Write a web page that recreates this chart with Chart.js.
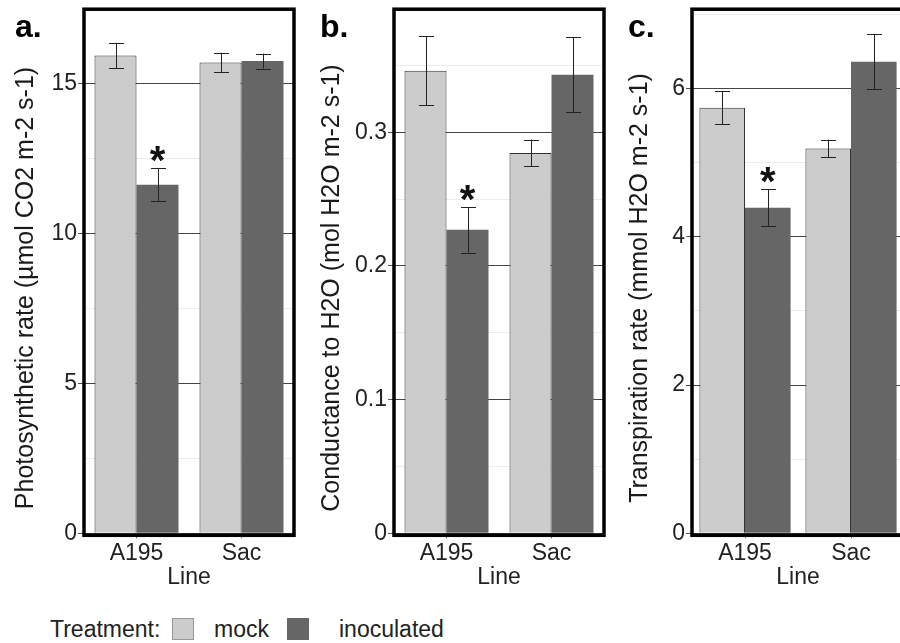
<!DOCTYPE html>
<html>
<head>
<meta charset="utf-8">
<script src="https://cdn.jsdelivr.net/npm/chart.js@4.4.0/dist/chart.umd.min.js"></script>
<style>
  body { margin: 0; background: #fff; }
  #wrap { position: relative; width: 900px; height: 643px; overflow: hidden; font-family: "Liberation Sans", Arial, sans-serif; }
  canvas { position: absolute; top: 0; }
  .leg { position: absolute; top: 618px; font-size: 23px; line-height: 23px; color: #222; white-space: nowrap; }
  .sw { position: absolute; top: 618px; width: 20px; height: 20px; }
</style>
</head>
<body>
<div id="wrap">
  <canvas id="pa" width="300" height="600" style="left:0px"></canvas>
  <canvas id="pb" width="310" height="600" style="left:300px"></canvas>
  <canvas id="pc" width="300" height="600" style="left:610px"></canvas>

  <span class="leg" style="left:50px">Treatment:</span>
  <div class="sw" style="left:172px; background:#cccccc; border:1px solid #999;"></div>
  <span class="leg" style="left:214px">mock</span>
  <div class="sw" style="left:287px; background:#666666; border:1px solid #666;"></div>
  <span class="leg" style="left:339px">inoculated</span>
</div>

<script>
// categories and groups
var lines = ['A195', 'Sac'];
var treatments = ['mock', 'inoculated'];

// a. photosynthetic rate
var photoMock = [15.93, 15.69];
var photoMockErr = [0.42, 0.33];
var photoInoc = [11.62, 15.74];
var photoInocErr = [0.55, 0.25];
var photoTicks = [0, 5, 10, 15];

// b. conductance to H2O
var condMock = [0.346, 0.2845];
var condMockErr = [0.026, 0.010];
var condInoc = [0.227, 0.343];
var condInocErr = [0.017, 0.028];
var condTicks = [0, 0.1, 0.2, 0.3];

// c. transpiration rate
var transMock = [5.74, 5.19];
var transMockErr = [0.22, 0.12];
var transInoc = [4.39, 6.36];
var transInocErr = [0.25, 0.37];
var transTicks = [0, 2, 4, 6];

// significance marks on the inoculated bars
var inocStars = ['*', ''];

Chart.defaults.font.family = '"Liberation Sans", Arial, sans-serif';

function isMajor(v, majors) {
    return majors.some(function (m) { return Math.abs(v - m) < 1e-6; });
}

// error bars, stars, frame, panel letter and y title
var panelDecor = {
    id: 'panelDecor',
    afterDatasetsDraw: function (chart) {
        var ctx = chart.ctx;
        var y = chart.scales.y;
        chart.data.datasets.forEach(function (ds, i) {
            chart.getDatasetMeta(i).data.forEach(function (bar, j) {
                var hi = y.getPixelForValue(ds.data[j] + ds.err[j]);
                var lo = y.getPixelForValue(ds.data[j] - ds.err[j]);
                var x = Math.round(bar.x) + 0.5;
                ctx.save();
                ctx.strokeStyle = '#222';
                ctx.lineWidth = 1;
                ctx.beginPath();
                ctx.moveTo(x, hi); ctx.lineTo(x, lo);
                ctx.moveTo(x - 7.5, Math.round(hi) + 0.5); ctx.lineTo(x + 7.5, Math.round(hi) + 0.5);
                ctx.moveTo(x - 7.5, Math.round(lo) + 0.5); ctx.lineTo(x + 7.5, Math.round(lo) + 0.5);
                ctx.stroke();
                if (ds.stars && ds.stars[j]) {
                    ctx.fillStyle = '#111';
                    ctx.font = 'bold 40px "Liberation Sans", Arial, sans-serif';
                    ctx.textAlign = 'center';
                    ctx.textBaseline = 'alphabetic';
                    ctx.fillText(ds.stars[j], bar.x, hi + 6);
                }
                ctx.restore();
            });
        });
    },
    afterDraw: function (chart, args, opts) {
        var ctx = chart.ctx;
        var a = chart.chartArea;
        ctx.save();
        ctx.strokeStyle = '#000';
        ctx.lineWidth = 3.5;
        ctx.strokeRect(a.left, a.top, a.right - a.left, a.bottom - a.top + 2);

        ctx.fillStyle = '#000';
        ctx.font = 'bold 32px "Liberation Sans", Arial, sans-serif';
        ctx.textAlign = 'left';
        ctx.textBaseline = 'alphabetic';
        ctx.fillText(opts.letter, opts.letterX, 37);

        ctx.fillStyle = '#1a1a1a';
        ctx.font = '25px "Liberation Sans", Arial, sans-serif';
        ctx.translate(opts.titleX, 288);
        ctx.rotate(-Math.PI / 2);
        ctx.textAlign = 'center';
        ctx.textBaseline = 'middle';
        ctx.fillText(opts.title, 0, 0);
        ctx.restore();
    }
};

function makePanel(id, p) {
    return new Chart(document.getElementById(id), {
        type: 'bar',
        data: {
            labels: lines,
            datasets: [{
                label: treatments[0],
                data: p.mock,
                err: p.mockErr,
                backgroundColor: '#cccccc',
                borderColor: '#333333',
                borderWidth: 1
            }, {
                label: treatments[1],
                data: p.inoc,
                err: p.inocErr,
                stars: inocStars,
                backgroundColor: '#666666',
                borderColor: '#666666',
                borderWidth: 0
            }]
        },
        options: {
            responsive: false,
            devicePixelRatio: 1,
            animation: false,
            layout: { padding: { top: 9.2, right: p.padRight, left: 0, bottom: 0 } },
            datasets: { bar: { categoryPercentage: p.catPct, barPercentage: 1 } },
            plugins: {
                legend: { display: false },
                tooltip: { enabled: false },
                panelDecor: { letter: p.letter, letterX: p.letterX, title: p.title, titleX: p.titleX }
            },
            scales: {
                x: {
                    offset: true,
                    grid: { display: true, drawOnChartArea: false, offset: false, tickLength: 5, color: '#666' },
                    border: { display: false },
                    ticks: { color: '#222', font: { size: 23 }, padding: 2 },
                    title: { display: true, text: 'Line', color: '#222', font: { size: 23 }, padding: { top: 0, bottom: 9 } },
                    afterFit: function (s) {
                        s.height = 600 - 533.3;
                        s.paddingLeft = 0; s.paddingRight = 0;
                    }
                },
                y: {
                    min: 0,
                    max: p.max,
                    grid: {
                        lineWidth: 1,
                        tickLength: 6,
                        color: function (c) { return isMajor(c.tick.value, p.ticks) ? '#444' : '#ececec'; },
                        tickColor: function (c) { return isMajor(c.tick.value, p.ticks) ? '#555' : 'rgba(0,0,0,0)'; }
                    },
                    border: { display: false },
                    ticks: {
                        stepSize: p.step,
                        includeBounds: false,
                        autoSkip: false,
                        padding: 1,
                        color: '#222',
                        font: { size: 23 },
                        callback: function (v) {
                            if (!isMajor(v, p.ticks)) return '';
                            return v === 0 ? '0' : String(Math.round(v * 10) / 10);
                        }
                    },
                    afterFit: function (s) {
                        s.width = p.axisWidth;
                        s.paddingTop = 0; s.paddingBottom = 0;
                    }
                }
            }
        },
        plugins: [panelDecor]
    });
}

makePanel('pa', {
    mock: photoMock, mockErr: photoMockErr, inoc: photoInoc, inocErr: photoInocErr,
    ticks: photoTicks, step: 2.5, max: 17.47,
    axisWidth: 84, padRight: 6, catPct: 0.8,
    letter: 'a.', letterX: 15, title: 'Photosynthetic rate (\u00b5mol CO2 m-2 s-1)', titleX: 26
});

makePanel('pb', {
    mock: condMock, mockErr: condMockErr, inoc: condInoc, inocErr: condInocErr,
    ticks: condTicks, step: 0.05, max: 0.392,
    axisWidth: 94, padRight: 6, catPct: 0.8,
    letter: 'b.', letterX: 20, title: 'Conductance to H2O (mol H2O m-2 s-1)', titleX: 32
});

makePanel('pc', {
    mock: transMock, mockErr: transMockErr, inoc: transInoc, inocErr: transInocErr,
    ticks: transTicks, step: 1, max: 7.07,
    axisWidth: 82, padRight: 6, catPct: 0.86,
    letter: 'c.', letterX: 18, title: 'Transpiration rate (mmol H2O m-2 s-1)', titleX: 30
});
</script>
</body>
</html>
